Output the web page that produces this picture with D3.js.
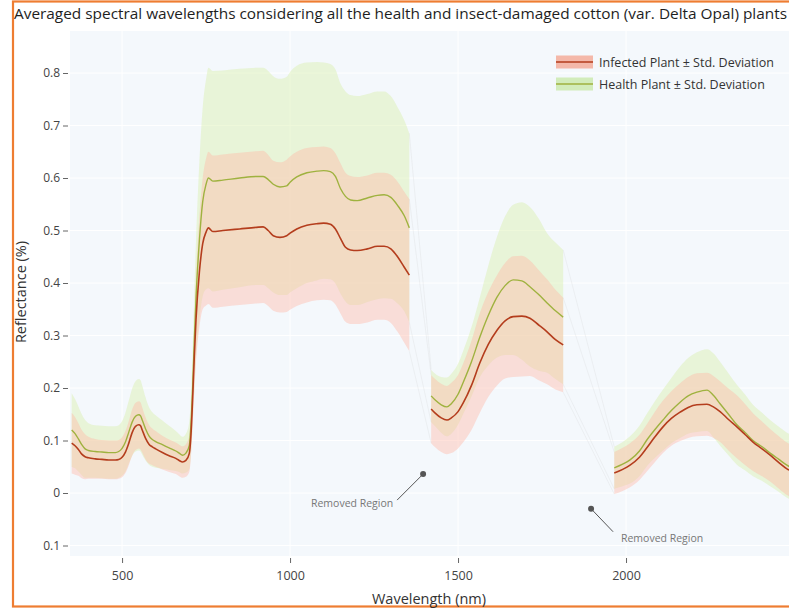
<!DOCTYPE html>
<html>
<head>
<meta charset="utf-8">
<script src="https://cdn.jsdelivr.net/npm/d3@7"></script>
<style>
  html, body { margin: 0; padding: 0; background: #ffffff; }
  svg { display: block; font-family: "Open Sans", "DejaVu Sans", sans-serif; }
</style>
</head>
<body>
<svg id="chart" width="789" height="610"></svg>
<script>
// Wavelengths (nm) of the averaged spectra; the water-absorption windows
// (~1355-1420 nm and ~1813-1965 nm) were removed, so the list has two jumps.
const wavelengths = [
  350, 360, 370, 380, 390, 400, 420, 440, 460, 480, 490, 500, 510, 520, 530, 540, 550, 555, 560, 570,
  580, 590, 600, 620, 640, 660, 670, 680, 690, 700, 705, 710, 715, 720, 730, 740, 750, 757, 770, 800,
  850, 900, 920, 935, 950, 970, 990, 1000, 1020, 1050, 1080, 1100, 1120, 1135, 1150, 1165, 1180, 1200,
  1230, 1260, 1280, 1300, 1320, 1340, 1355,
  1420, 1432, 1450, 1467, 1480, 1500, 1515, 1540, 1565, 1590, 1616, 1640, 1664, 1690, 1714, 1740, 1765,
  1790, 1813,
  1965, 1990, 2012, 2040, 2062, 2085, 2110, 2135, 2161, 2185, 2211, 2241, 2260, 2280, 2305, 2330, 2355,
  2378, 2405, 2429, 2455, 2479, 2500
];

// Insect-damaged (infected) plants: mean reflectance and standard deviation
const infectedMean = [
  0.095, 0.090, 0.083, 0.074, 0.069, 0.067, 0.065, 0.064, 0.063, 0.063, 0.064, 0.068, 0.078, 0.095, 0.115, 0.127, 0.130, 0.128, 0.120, 0.104,
  0.093, 0.088, 0.084, 0.077, 0.071, 0.066, 0.062, 0.059, 0.062, 0.075, 0.110, 0.180, 0.260, 0.330, 0.420, 0.475, 0.497, 0.505, 0.498, 0.500,
  0.503, 0.506, 0.507, 0.500, 0.490, 0.487, 0.490, 0.495, 0.503, 0.510, 0.513, 0.514, 0.512, 0.503, 0.485, 0.468, 0.463, 0.462,
  0.465, 0.470, 0.470, 0.465, 0.450, 0.430, 0.415,
  0.160, 0.152, 0.143, 0.139, 0.143, 0.155, 0.171, 0.205, 0.248, 0.283, 0.310, 0.328, 0.336, 0.337, 0.333, 0.320, 0.307,
  0.292, 0.282,
  0.038, 0.045, 0.053, 0.068, 0.086, 0.106, 0.126, 0.142, 0.154, 0.163, 0.168, 0.169, 0.164, 0.155, 0.140, 0.126, 0.111,
  0.097, 0.084, 0.072, 0.058, 0.046, 0.040
];
const infectedStd = [
  0.058, 0.055, 0.050, 0.046, 0.043, 0.040, 0.038, 0.037, 0.037, 0.037, 0.037, 0.038, 0.040, 0.042, 0.044, 0.045, 0.045, 0.045, 0.043, 0.040,
  0.037, 0.035, 0.034, 0.032, 0.031, 0.030, 0.030, 0.030, 0.031, 0.035, 0.042, 0.050, 0.065, 0.080, 0.105, 0.125, 0.140, 0.145, 0.145, 0.145,
  0.145, 0.145, 0.145, 0.144, 0.143, 0.143, 0.145, 0.146, 0.147, 0.147, 0.146, 0.146, 0.145, 0.144, 0.143, 0.142, 0.141, 0.140,
  0.140, 0.140, 0.140, 0.141, 0.143, 0.144, 0.145,
  0.065, 0.065, 0.065, 0.065, 0.067, 0.070, 0.075, 0.085, 0.095, 0.100, 0.105, 0.110, 0.115, 0.115, 0.110, 0.105, 0.100,
  0.095, 0.090,
  0.040, 0.041, 0.042, 0.043, 0.045, 0.048, 0.050, 0.052, 0.055, 0.058, 0.060, 0.060, 0.059, 0.058, 0.059, 0.060, 0.058,
  0.055, 0.052, 0.050, 0.050, 0.050, 0.050
];

// Healthy plants: mean reflectance and standard deviation
const healthMean = [
  0.120, 0.113, 0.103, 0.092, 0.084, 0.081, 0.079, 0.078, 0.077, 0.077, 0.079, 0.085, 0.097, 0.116, 0.135, 0.146, 0.149, 0.147, 0.139, 0.122,
  0.109, 0.102, 0.098, 0.092, 0.086, 0.080, 0.076, 0.072, 0.076, 0.090, 0.130, 0.200, 0.290, 0.370, 0.480, 0.555, 0.588, 0.600, 0.594, 0.596,
  0.600, 0.603, 0.603, 0.597, 0.588, 0.583, 0.585, 0.592, 0.602, 0.610, 0.613, 0.614, 0.612, 0.603, 0.580, 0.565, 0.558, 0.557,
  0.562, 0.567, 0.568, 0.563, 0.548, 0.528, 0.505,
  0.185, 0.177, 0.168, 0.164, 0.170, 0.188, 0.210, 0.250, 0.297, 0.338, 0.373, 0.395, 0.406, 0.404, 0.393, 0.378, 0.362,
  0.347, 0.335,
  0.048, 0.055, 0.063, 0.080, 0.101, 0.120, 0.139, 0.157, 0.173, 0.185, 0.192, 0.196, 0.186, 0.170, 0.150, 0.130, 0.115,
  0.100, 0.088, 0.076, 0.064, 0.053, 0.046
];
const healthStd = [
  0.070, 0.066, 0.062, 0.058, 0.055, 0.052, 0.050, 0.050, 0.050, 0.050, 0.050, 0.052, 0.056, 0.060, 0.064, 0.067, 0.068, 0.068, 0.066, 0.060,
  0.055, 0.052, 0.050, 0.046, 0.042, 0.038, 0.036, 0.035, 0.037, 0.045, 0.055, 0.070, 0.090, 0.110, 0.150, 0.180, 0.200, 0.210, 0.210, 0.209,
  0.208, 0.207, 0.207, 0.207, 0.206, 0.206, 0.208, 0.210, 0.212, 0.210, 0.208, 0.206, 0.205, 0.204, 0.200, 0.200, 0.200, 0.199,
  0.198, 0.198, 0.197, 0.193, 0.187, 0.182, 0.180,
  0.050, 0.050, 0.053, 0.056, 0.057, 0.058, 0.060, 0.066, 0.076, 0.095, 0.115, 0.132, 0.143, 0.150, 0.152, 0.145, 0.133,
  0.130, 0.128,
  0.040, 0.042, 0.045, 0.048, 0.050, 0.054, 0.058, 0.062, 0.068, 0.072, 0.076, 0.078, 0.080, 0.080, 0.078, 0.076, 0.072,
  0.068, 0.065, 0.063, 0.062, 0.062, 0.062
];

const seriesNames = ["Infected Plant \u00b1 Std. Deviation", "Health Plant \u00b1 Std. Deviation"];
const xTickValues = [500, 1000, 1500, 2000];
const xTickLabels = ["500", "1000", "1500", "2000"];
const yTickValues = [-0.1, 0, 0.1, 0.2, 0.3, 0.4, 0.5, 0.6, 0.7, 0.8];
const yTickLabels = ["0.1", "0", "0.1", "0.2", "0.3", "0.4", "0.5", "0.6", "0.7", "0.8"];
const annotationText = "Removed Region";
const chartTitle = "Averaged spectral wavelengths considering all the health and insect-damaged cotton (var. Delta Opal) plants";

// ---------------------------------------------------------------------------
const svg = d3.select("#chart");
const W = 789, H = 610;
const plot = { left: 70, top: 31, right: 794, bottom: 556 };

const x = d3.scaleLinear().domain([345, 2500]).range([plot.left, plot.right]);
const y = d3.scaleLinear().domain([-0.12, 0.88]).range([plot.bottom, plot.top]);

// split the samples into contiguous segments at the removed windows
const rows = wavelengths.map((w, i) => ({
  w,
  im: infectedMean[i], is: infectedStd[i],
  hm: healthMean[i], hs: healthStd[i]
}));
const segments = [];
rows.forEach((r, i) => {
  if (i === 0 || r.w - rows[i - 1].w > 60) segments.push([]);
  segments[segments.length - 1].push(r);
});

// outer frame
svg.append("rect")
  .attr("x", 13).attr("y", 1.5)
  .attr("width", W + 20).attr("height", 605)
  .attr("fill", "#ffffff")
  .attr("stroke", "#ee7d32").attr("stroke-width", 2.2);

// plot background
svg.append("rect")
  .attr("x", plot.left).attr("y", plot.top)
  .attr("width", plot.right - plot.left).attr("height", plot.bottom - plot.top)
  .attr("fill", "#f4f8fc");

// white grid
const grid = svg.append("g").attr("stroke", "#ffffff").attr("stroke-width", 1);
xTickValues.forEach(v => grid.append("line")
  .attr("x1", x(v)).attr("x2", x(v)).attr("y1", plot.top).attr("y2", plot.bottom));
yTickValues.forEach(v => grid.append("line")
  .attr("x1", plot.left).attr("x2", plot.right).attr("y1", y(v)).attr("y2", y(v)));

const curve = d3.curveMonotoneX;
const healthArea = d3.area().curve(curve)
  .x(d => x(d.w)).y0(d => y(d.hm - d.hs)).y1(d => y(d.hm + d.hs));
const infectedArea = d3.area().curve(curve)
  .x(d => x(d.w)).y0(d => y(d.im - d.is)).y1(d => y(d.im + d.is));
const healthLine = d3.line().curve(curve).x(d => x(d.w)).y(d => y(d.hm));
const infectedLine = d3.line().curve(curve).x(d => x(d.w)).y(d => y(d.im));

const colors = {
  healthBand: "rgba(214,238,168,0.42)",
  infectedBand: "rgba(255,184,168,0.42)",
  healthLine: "#9fb23f",
  infectedLine: "#b43d1d"
};

// faint band edges bridging the removed windows
const bridges = svg.append("g")
  .attr("stroke", "#c8c8c8").attr("stroke-opacity", 0.25).attr("stroke-width", 0.8).attr("fill", "none");
for (let s = 0; s < segments.length - 1; s++) {
  const a = segments[s][segments[s].length - 1];
  const b = segments[s + 1][0];
  [[a.hm + a.hs, b.hm + b.hs], [a.im + a.is, b.im + b.is],
   [a.hm - a.hs, b.hm - b.hs], [a.im - a.is, b.im - b.is]].forEach(([v0, v1]) => {
    bridges.append("line")
      .attr("x1", x(a.w)).attr("y1", y(v0))
      .attr("x2", x(b.w)).attr("y2", y(v1));
  });
}

const marks = svg.append("g");
segments.forEach(seg => {
  marks.append("path").attr("d", healthArea(seg)).attr("fill", colors.healthBand);
});
segments.forEach(seg => {
  marks.append("path").attr("d", infectedArea(seg)).attr("fill", colors.infectedBand);
});
segments.forEach(seg => {
  marks.append("path").attr("d", healthLine(seg))
    .attr("fill", "none").attr("stroke", colors.healthLine).attr("stroke-width", 1.4);
  marks.append("path").attr("d", infectedLine(seg))
    .attr("fill", "none").attr("stroke", colors.infectedLine).attr("stroke-width", 1.6);
});

// axes
const yAxis = d3.axisLeft(y)
  .tickValues(yTickValues)
  .tickFormat((d, i) => yTickLabels[i])
  .tickSize(5).tickSizeOuter(0).tickPadding(3);
const gy = svg.append("g").attr("transform", `translate(${plot.left - 2},0)`).call(yAxis);
gy.select(".domain").remove();
gy.selectAll(".tick line").attr("stroke", "#666");
gy.selectAll(".tick text").attr("fill", "#444").style("font-size", "12px")
  .style("font-family", '"Open Sans", sans-serif');

const xAxis = d3.axisBottom(x)
  .tickValues(xTickValues)
  .tickFormat((d, i) => xTickLabels[i])
  .tickSize(5).tickSizeOuter(0).tickPadding(8);
const gx = svg.append("g").attr("transform", `translate(0,${plot.bottom + 2})`).call(xAxis);
gx.select(".domain").remove();
gx.selectAll(".tick line").attr("stroke", "#666");
gx.selectAll(".tick text").attr("fill", "#444").style("font-size", "12.5px")
  .style("font-family", '"Open Sans", sans-serif');

// axis titles
svg.append("text")
  .attr("x", 429).attr("y", 604)
  .attr("text-anchor", "middle")
  .attr("fill", "#333").style("font-size", "14.5px")
  .text("Wavelength (nm)");
svg.append("text")
  .attr("transform", "translate(26,292) rotate(-90)")
  .attr("text-anchor", "middle")
  .attr("fill", "#333").style("font-size", "14.5px")
  .text("Reflectance (%)");

// chart title
svg.append("text")
  .attr("x", 14).attr("y", 19)
  .attr("fill", "#1e1e1e").style("font-size", "15px")
  .attr("textLength", 773).attr("lengthAdjust", "spacingAndGlyphs")
  .text(chartTitle);

// legend
const legend = svg.append("g").attr("transform", "translate(556,0)");
[
  { name: seriesNames[0], fill: "rgba(244,168,148,0.8)", line: colors.infectedLine, cy: 62 },
  { name: seriesNames[1], fill: "rgba(206,234,180,0.9)", line: colors.healthLine, cy: 84 }
].forEach(item => {
  legend.append("rect")
    .attr("x", 0).attr("y", item.cy - 6.5).attr("width", 37).attr("height", 13)
    .attr("fill", item.fill);
  legend.append("line")
    .attr("x1", 0).attr("x2", 37).attr("y1", item.cy).attr("y2", item.cy)
    .attr("stroke", item.line).attr("stroke-width", 1.6);
  legend.append("text")
    .attr("x", 43).attr("y", item.cy + 4.5)
    .attr("fill", "#333").style("font-size", "12.5px")
    .text(item.name);
});

// "Removed Region" callouts inside the removed windows
const callouts = [
  { w: 1396, v: 0.036, lx: -26, ly: 26, tx: -71, ty: 29 },
  { w: 1896, v: -0.030, lx: 22, ly: 23, tx: 71, ty: 29 }
];
callouts.forEach(c => {
  const px = x(c.w), py = y(c.v);
  svg.append("line")
    .attr("x1", px).attr("y1", py).attr("x2", px + c.lx).attr("y2", py + c.ly)
    .attr("stroke", "#555").attr("stroke-width", 1);
  svg.append("circle").attr("cx", px).attr("cy", py).attr("r", 3).attr("fill", "#555");
  svg.append("text")
    .attr("x", px + c.tx).attr("y", py + c.ty)
    .attr("text-anchor", "middle").attr("dominant-baseline", "central")
    .attr("fill", "#777").style("font-size", "10.5px")
    .text(annotationText);
});
</script>
</body>
</html>
